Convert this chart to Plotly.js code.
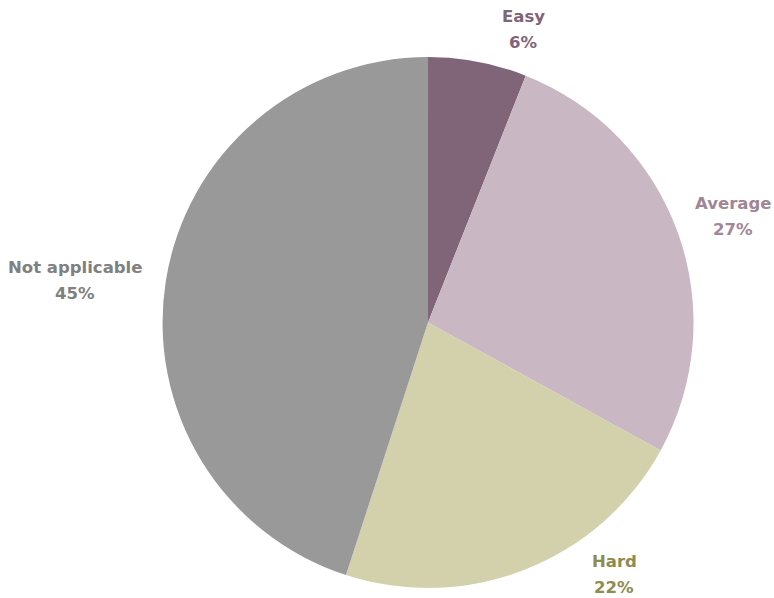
<!DOCTYPE html>
<html>
<head>
<meta charset="utf-8">
<script src="https://cdn.plot.ly/plotly-3.0.1.min.js"></script>
<style>html,body{margin:0;padding:0;background:#fff;}#chart{width:774px;height:598px;}</style>
</head>
<body>
<div id="chart"></div>
<script>
const categories = ["Easy", "Average", "Hard", "Not applicable"];
const values = [6, 27, 22, 45];
const sliceColors = ["#806478", "#c9b8c4", "#d3d0ac", "#999999"];
const labelColors = ["#806478", "#a08696", "#8e8b50", "#808080"];
// label block centres in pixels (layout only)
const labelPos = [[523, 17], [733, 203], [614, 561], [75, 267]];

const W = 774, H = 598;
const total = values.reduce((a, b) => a + b, 0);

const data = [{
  type: "pie",
  labels: categories,
  values: values,
  sort: false,
  direction: "clockwise",
  rotation: 0,
  marker: {colors: sliceColors, line: {width: 0}},
  textinfo: "none",
  hoverinfo: "none",
  domain: {x: [0.21, 0.896], y: [1 - 588 / H, 1 - 57 / H]},
  automargin: false,
  showlegend: false
}];

const annotations = [];
categories.forEach((c, i) => {
  const [px, py] = labelPos[i];
  const font = {family: "DejaVu Sans", size: 16.5, color: labelColors[i]};
  annotations.push({
    xref: "paper", yref: "paper", x: px / W, y: 1 - py / H,
    xanchor: "center", yanchor: "middle", showarrow: false,
    text: "<b>" + c + "</b>", font: font
  });
  annotations.push({
    xref: "paper", yref: "paper", x: px / W, y: 1 - (py + 26) / H,
    xanchor: "center", yanchor: "middle", showarrow: false,
    text: "<b>" + Math.round(values[i] / total * 100) + "%</b>", font: font
  });
});

const layout = {
  width: W,
  height: H,
  margin: {l: 0, r: 0, t: 0, b: 0},
  paper_bgcolor: "#ffffff",
  plot_bgcolor: "#ffffff",
  showlegend: false,
  annotations: annotations
};

Plotly.newPlot("chart", data, layout, {displayModeBar: false, staticPlot: true});
</script>
</body>
</html>
